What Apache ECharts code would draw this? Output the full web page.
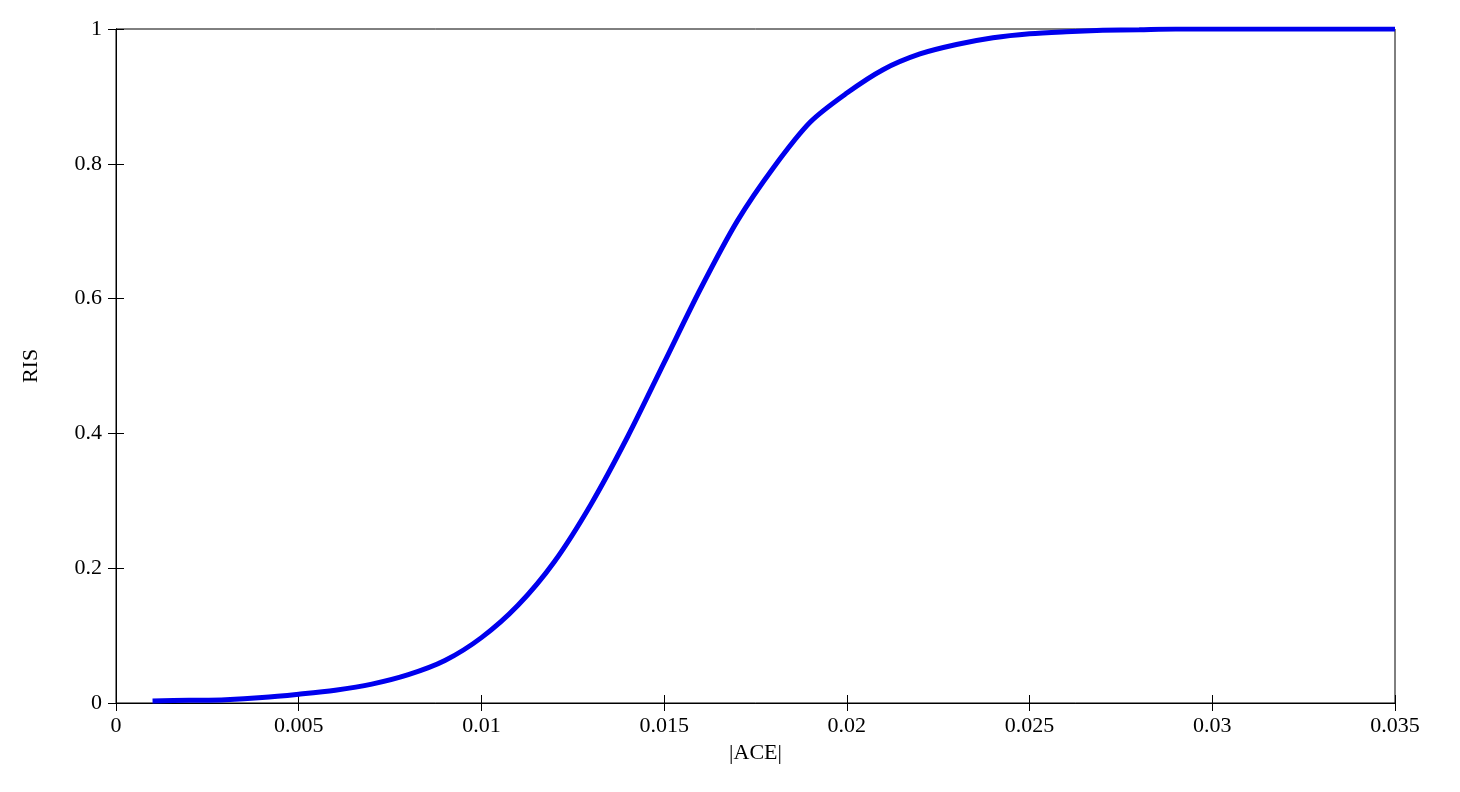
<!DOCTYPE html>
<html><head><meta charset="utf-8">
<script src="https://cdn.jsdelivr.net/npm/echarts@6/dist/echarts.min.js"></script>
<style>html,body{margin:0;padding:0;background:#fff}#c{width:1460px;height:792px}</style>
</head><body><div id="c"></div>
<script>
const aceValues = [0.001,0.002,0.003,0.004,0.005,0.006,0.007,0.008,0.009,0.010,0.011,0.012,0.013,0.014,0.015,0.016,0.017,0.018,0.019,0.020,0.021,0.022,0.023,0.024,0.025,0.026,0.027,0.028,0.029,0.030,0.031,0.032,0.033,0.034,0.035];
const risValues = [0.003,0.004,0.005,0.008,0.013,0.019,0.028,0.042,0.063,0.097,0.145,0.21,0.295,0.395,0.505,0.615,0.715,0.795,0.862,0.905,0.94,0.963,0.977,0.987,0.993,0.996,0.998,0.999,1,1,1,1,1,1,1];
const chart = echarts.init(document.getElementById('c'));
const font = {fontFamily:'Liberation Serif', fontSize:22, color:'#000'};
const tick = {show:true,inside:true,length:8,lineStyle:{color:'#000'}};
chart.setOption({
  animation:false,
  grid:{left:116,right:65,top:29,bottom:89,show:true,borderColor:'#000',borderWidth:1},
  xAxis:[{type:'value',min:0,max:0.035,interval:0.005,name:'|ACE|',nameLocation:'middle',nameGap:38,
    nameTextStyle:font,axisLabel:Object.assign({margin:12},font),
    axisLine:{lineStyle:{color:'#000'}},axisTick:tick,splitLine:{show:false}},
    {type:'value',position:'top',min:0,max:0.035,interval:0.005,axisLabel:{show:false},
    axisLine:{show:true,lineStyle:{color:'#000'}},axisTick:tick,splitLine:{show:false}}],
  yAxis:[{type:'value',min:0,max:1,interval:0.2,name:'RIS',nameLocation:'middle',nameGap:74,
    nameTextStyle:font,axisLabel:Object.assign({margin:14},font),
    axisLine:{show:true,lineStyle:{color:'#000'}},axisTick:tick,splitLine:{show:false}},
    {type:'value',position:'right',min:0,max:1,interval:0.2,axisLabel:{show:false},
    axisLine:{show:true,lineStyle:{color:'#000'}},axisTick:tick,splitLine:{show:false}}],
  series:[{type:'line',data:aceValues.map((x,i)=>[x,risValues[i]]),smooth:0.3,showSymbol:false,
    lineStyle:{color:'#0000ee',width:5}}]
});
</script></body></html>
